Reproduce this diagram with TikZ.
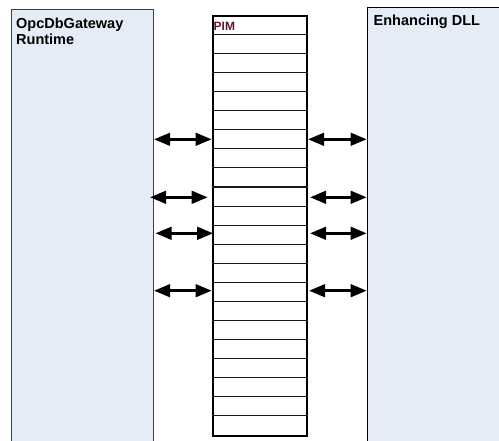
\documentclass[tikz,border=0pt]{standalone}
\usepackage{fontspec}
\setmainfont{Liberation Sans}
\usetikzlibrary{arrows.meta}
\definecolor{panelfill}{RGB}{228,236,247}
\definecolor{panelline}{RGB}{64,64,64}
\definecolor{pimtext}{RGB}{100,20,55}
\tikzset{
  panel/.style={draw=panelline, line width=1pt, fill=panelfill, inner sep=0pt, anchor=north west},
  pimcol/.style={draw=black, line width=2pt, fill=white, inner sep=0pt, anchor=north west},
  rowline/.style={draw=black!90, line width=1.1pt},
  lbl/.style={font=\bfseries\fontsize{14.5}{15.5}\selectfont, inner sep=0pt, align=left},
  biarrow/.style={line width=2.8pt, {Triangle[length=16pt,width=12.5pt]}-{Triangle[length=16pt,width=12.5pt]}}
}
\begin{document}
\begin{tikzpicture}[x=1pt,y=-1pt]
\path[use as bounding box, clip] (0,0) rectangle (499,441);
\fill[white] (0,0) rectangle (499,441);
% panels
\node[panel, minimum width=142pt, minimum height=445pt] (L) at (11,9) {};
\node[panel, draw=black, minimum width=145pt, minimum height=445pt] (R) at (366.7,7) {};
\node[lbl, anchor=north west] (Ltxt) at (16,18) {OpcDbGateway\\Runtime};
\node[lbl, anchor=north west] (Rtxt) at (373.5,14.8) {Enhancing DLL};
% PIM column
\node[pimcol, minimum width=94.3pt, minimum height=419.7pt] (P) at (211.7,15.3) {};
\foreach \k in {1,...,21}{
  \draw[rowline] ([yshift=-\k*19.077pt]P.north west) -- ([yshift=-\k*19.077pt]P.north east);
}
\node[font=\bfseries\fontsize{12}{13}\selectfont, text=pimtext, inner sep=0pt, anchor=base west] (Ptxt) at (213.5,30.3) {PIM};
% arrows left
\draw[biarrow] (L.east |- 0,139.3) -- (P.west |- 0,139.3);
\draw[biarrow] ([xshift=-4pt]L.east |- 0,197.3) -- ([xshift=-4pt]P.west |- 0,197.3);
\draw[biarrow] ([xshift=1.5pt]L.east |- 0,233.3) -- ([xshift=1.5pt]P.west |- 0,233.3);
\draw[biarrow] (L.east |- 0,290.7) -- (P.west |- 0,290.7);
% arrows right
\draw[biarrow] (P.east |- 0,139.3) -- (R.west |- 0,139.3);
\draw[biarrow] ([xshift=2pt]P.east |- 0,197.3) -- (R.west |- 0,197.3);
\draw[biarrow] ([xshift=2pt]P.east |- 0,233.3) -- (R.west |- 0,233.3);
\draw[biarrow] ([xshift=1pt]P.east |- 0,290.7) -- (R.west |- 0,290.7);
\end{tikzpicture}
\end{document}
